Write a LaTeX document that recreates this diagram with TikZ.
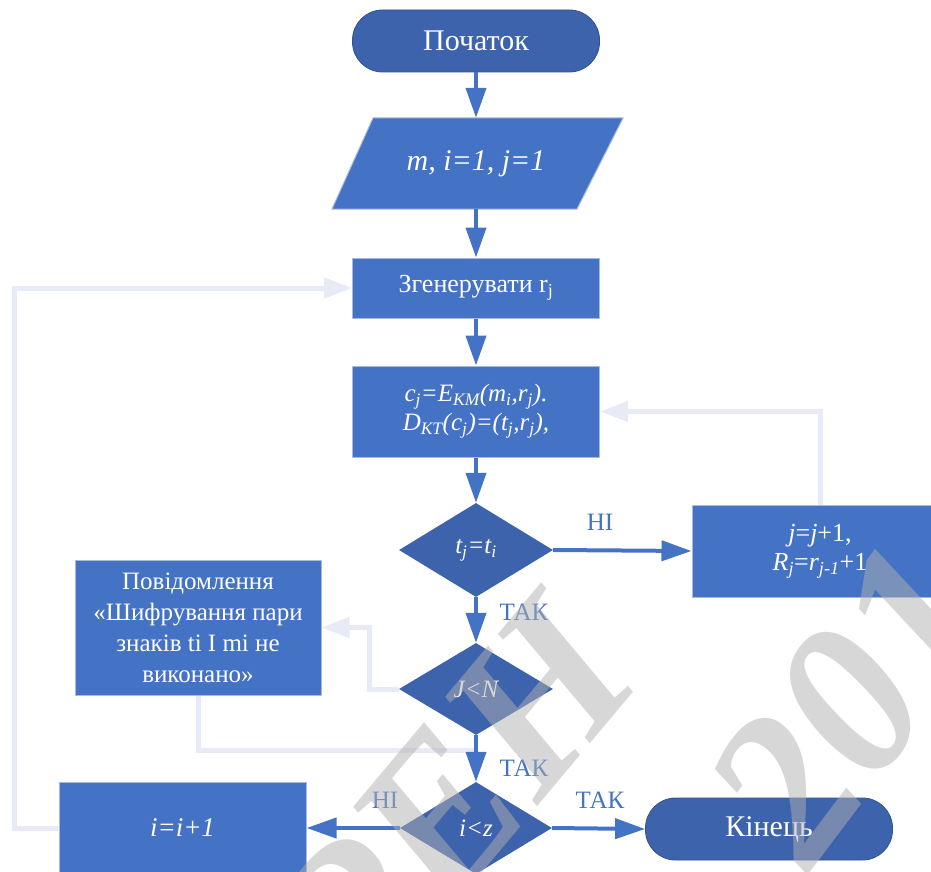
\documentclass[tikz,border=0pt]{standalone}
\usepackage{fontspec}
\setmainfont{Liberation Serif}
\usetikzlibrary{shapes.geometric,arrows.meta}
\definecolor{procblue}{HTML}{4472C4}
\definecolor{termblue}{HTML}{3E63AD}
\definecolor{termedge}{HTML}{2F528F}
\definecolor{procedge}{HTML}{A9B9DA}
\definecolor{backflow}{HTML}{E8EBF5}
\definecolor{markgray}{HTML}{B0B0B0}
\newcommand\lo[1]{\textsubscript{#1}}

\begin{document}
\begin{tikzpicture}[x=1pt,y=-1pt,
  terminal/.style={rectangle, rounded corners=30pt, fill=termblue, draw=termedge,
    line width=0.8pt, text=white, minimum width=247pt, minimum height=62pt,
    font=\fontsize{30}{32}\selectfont},
  process/.style={rectangle, fill=procblue, draw=procedge, line width=1pt,
    text=white, align=center, inner sep=0pt},
  decision/.style={diamond, fill=termblue, text=white, inner sep=0pt,
    font=\fontsize{25}{28}\selectfont\itshape},
  flow/.style={draw=procblue, line width=4pt,
    -{Triangle[length=30pt,width=20pt]}},
  backline/.style={draw=backflow, line width=5pt},
  backarrow/.style={backline, -{Triangle[length=28pt,width=20pt]}},
  answer/.style={text=procblue, font=\fontsize{25}{28}\selectfont},
  watermark/.style={text=markgray, text opacity=0.5,
    font=\fontsize{215}{215}\selectfont\bfseries\itshape}
]
\useasboundingbox (0,0) rectangle (931,872);

% input parallelogram
\fill[procblue] (373,118) -- (623,118) -- (577,209) -- (332,209) -- cycle;
\draw[procedge, line width=1pt] (373,118) -- (623,118) -- (577,209) -- (332,209) -- cycle;

% blocks
\node[terminal] (start) at (476,41) {Початок};
\node[inner sep=0pt, minimum width=245pt, minimum height=91pt, text=white,
  font=\fontsize{30}{32}\selectfont\itshape] (inp) at (476,163.5) {m, i=1, j=1};
\node[process, minimum width=247pt, minimum height=60pt,
  font=\fontsize{26}{28}\selectfont] (gen) at (476,288) {Згенерувати r\lo{j}};
\node[process, minimum width=247pt, minimum height=91pt,
  font=\fontsize{25}{29}\selectfont\itshape] (calc) at (476,411.5)
  {c\lo{j}=E\lo{KM}(m\lo{i},r\lo{j}).\\D\lo{KT}(c\lo{j})=(t\lo{j},r\lo{j}),};
\node[decision, minimum width=154pt, minimum height=94pt] (d1) at (476,550)
  {t\lo{j}=t\lo{i}};
\node[process, minimum width=256pt, minimum height=92pt,
  font=\fontsize{26}{29}\selectfont] (upd) at (820,551)
  {\textit{j}=\textit{j}+1,\\\textit{R}\lo{\textit{j}}=\textit{r}\lo{\textit{j-1}}+1};
\node[decision, minimum width=154pt, minimum height=92pt] (d2) at (476,689)
  {J<N};
\node[process, minimum width=246pt, minimum height=135pt,
  font=\fontsize{25}{31}\selectfont] (msg) at (198,627.5)
  {Повідомлення\\«Шифрування пари\\знаків ti I mi не\\виконано»};
\node[decision, minimum width=152pt, minimum height=92pt] (d3) at (476,828)
  {i<z};
\node[process, minimum width=247pt, minimum height=92pt,
  font=\fontsize{27}{30}\selectfont\itshape] (inc) at (182.5,828) {i=i+1};
\node[terminal] (end) at (769,829) {Кінець};

% return paths
\coordinate (join) at (476,750);
\draw[backarrow] (upd.north) |- (calc.east);
\draw[backarrow] (d2.west) -- ++(-29,0) |- (msg.east);
\draw[backline] (msg.south) |- (join);
\draw[backarrow] (inc.west) -- ++(-44,0) |- (gen.west);

% main flow
\draw[flow] (start) -- (inp.north);
\draw[flow] (inp.south) -- (gen.north);
\draw[flow] (gen) -- (calc);
\draw[flow] (calc) -- (d1);
\draw[flow] (d1.east) -- (upd.west);
\draw[flow] (d1) -- (d2);
\draw[flow] (d2) -- (d3);
\draw[flow] (d3.west) -- (inc.east);
\draw[flow] (d3.east) -- (end.west);

% branch labels
\node[answer] (l1) at (600,522) {НІ};
\node[answer] (l2) at (524,612) {ТАК};
\node[answer] (l3) at (524,768) {ТАК};
\node[answer] (l4) at (385,800) {НІ};
\node[answer] (l5) at (600,800) {ТАК};

% watermark
\node[watermark, rotate=50] (wm1) at (408,852) {ТРЕН};
\node[watermark, rotate=53] (wm2) at (850,702) {201};
\end{tikzpicture}
\end{document}
